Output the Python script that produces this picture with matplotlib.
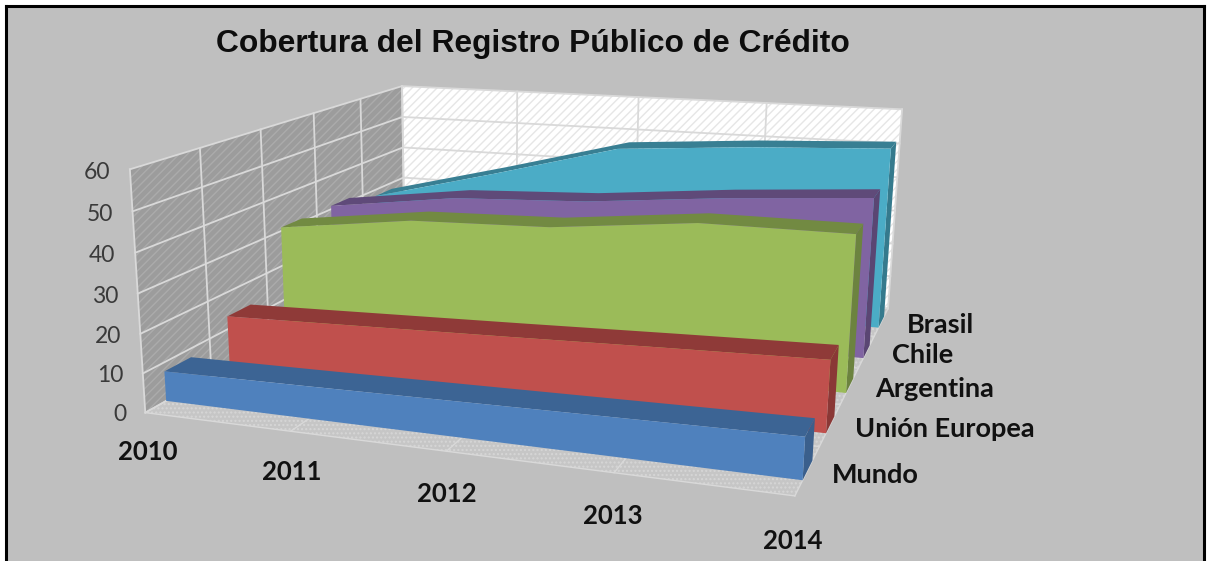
import numpy as np
import matplotlib
matplotlib.use('Agg')
import matplotlib.pyplot as plt
from matplotlib.lines import Line2D
from matplotlib.patches import Rectangle
from mpl_toolkits.mplot3d.art3d import Poly3DCollection

years = ['2010', '2011', '2012', '2013', '2014']
series_names = ['Mundo', 'Unión Europea', 'Argentina', 'Chile', 'Brasil']
mundo = [7.7, 8.2, 8.8, 9.4, 10]
union_europea = [13.5, 14.6, 15.7, 16.9, 18]
argentina = [31, 35.8, 36.9, 40.9, 41]
chile = [31, 36, 37.7, 41.3, 44]
brasil = [28, 37.5, 47.5, 50.2, 52]
z_ticks = [0, 10, 20, 30, 40, 50, 60]

front_colors = ['#4F81BD', '#C0504D', '#9BBB59', '#8064A2', '#4BACC6']
top_colors = ['#3C6494', '#8F3A38', '#728A42', '#5F4A79', '#387F93']
side_colors = ['#3A5F8C', '#8A3836', '#6C833F', '#5A4673', '#357A8D']

W, H = 1208, 561
BG = '#BFBFBF'
GRID = '#D9D9D9'

plt.rcParams['hatch.linewidth'] = 1.0

fig = plt.figure(figsize=(W / 100, H / 100), dpi=100, facecolor='white')
fig.add_artist(Rectangle((6 / W, 0), (W - 10) / W, (H - 6) / H, transform=fig.transFigure,
                         facecolor=BG, edgecolor='none', zorder=-5))
for xs, ys in [([6, 6], [0, H - 6]), ([6, W - 4], [H - 6, H - 6]), ([W - 4, W - 4], [0, H - 6])]:
    fig.add_artist(Line2D(np.array(xs) / W, np.array(ys) / H, color='black', lw=2.2))

# square axes as wide as the figure, so nothing gets clipped
ax = fig.add_axes([0, (H - W) / 2 / H, 1, W / H], projection='3d', computed_zorder=False)
ax.set_axis_off()
ax.patch.set_visible(False)

n_x = len(years) - 1
n_y = len(series_names)
z_max = z_ticks[-1]


def add_poly(verts, face, zorder, edge='none', hatch=None):
    poly = Poly3DCollection(verts, facecolors=face, edgecolors=edge, linewidths=0, zorder=zorder, hatch=hatch)
    ax.add_collection3d(poly)


# walls and floor
add_poly([[(0, 0, 0), (0, n_y, 0), (0, n_y, z_max), (0, 0, z_max)]], '#9C9C9C', 1, '#ABABAB', '////')
add_poly([[(0, n_y, 0), (n_x, n_y, 0), (n_x, n_y, z_max), (0, n_y, z_max)]], '#FFFFFF', 1, '#E6E6E6', '////')
add_poly([[(0, 0, 0), (n_x, 0, 0), (n_x, n_y, 0), (0, n_y, 0)]], '#C6C6C6', 1, '#D6D6D6', '....')

for z in z_ticks:
    ax.plot([0, 0, n_x], [0, n_y, n_y], [z, z, z], color=GRID, lw=1.3, zorder=2)
for y in range(n_y + 1):
    ax.plot([0, 0], [y, y], [0, z_max], color=GRID, lw=1.3, zorder=2)
    ax.plot([0, n_x], [y, y], [0, 0], color=GRID, lw=1.0, zorder=2)
for x in range(n_x + 1):
    ax.plot([x, x], [n_y, n_y], [0, z_max], color=GRID, lw=1.3, zorder=2)
    ax.plot([x, x], [0, n_y], [0, 0], color=GRID, lw=1.0, zorder=2)

# the areas, back to front
all_series = [mundo, union_europea, argentina, chile, brasil]
for i in range(n_y - 1, -1, -1):
    vals = all_series[i]
    y0, y1 = i + 0.3, i + 0.7
    base = 10 + (n_y - i) * 3
    add_poly([[(n_x, y0, 0), (n_x, y1, 0), (n_x, y1, vals[-1]), (n_x, y0, vals[-1])]], side_colors[i], base)
    top = [(k, y0, vals[k]) for k in range(n_x + 1)] + [(k, y1, vals[k]) for k in range(n_x, -1, -1)]
    add_poly([top], top_colors[i], base + 1)
    front = [(k, y0, vals[k]) for k in range(n_x + 1)] + [(n_x, y0, 0), (0, y0, 0)]
    add_poly([front], front_colors[i], base + 2)

# labels
for z in z_ticks:
    ax.text(-0.14, 0, z - 1.2, str(z), ha='right', va='center', fontsize=16.5, color='#3A3A3A',
            family='Lato', zorder=40)
for k, year in enumerate(years):
    ax.text(k, 0, -10.3, year, ha='center', va='center', fontsize=18.5, fontweight='bold',
            color='#111111', family='Lato', zorder=40)
for i, name in enumerate(series_names):
    ax.text(n_x + 0.14 + 0.012 * i, i + 0.47, 0, name, ha='left', va='center', fontsize=19.5, fontweight='bold',
            color='#111111', family='Lato', zorder=40)

fig.text(533 / W, 1 - 44 / H, 'Cobertura del Registro Público de Crédito', ha='center', va='center',
         fontsize=22.9, fontweight='bold', color='#0D0D0D', family='Liberation Sans')

# view: the box corners as they sit in the picture, solved into one projective matrix
box_corners = [(0, 0, 0), (n_x, 0, 0), (n_x, n_y, 0), (0, n_y, 0), (0, 0, z_max), (n_x, n_y, z_max), (0, n_y, z_max)]
box_pixels = [(145, 411), (795, 497), (888, 307), (405, 268), (130, 170), (902, 110), (402, 85)]
rows = []
for (cx, cy, cz), (u, v) in zip(box_corners, box_pixels):
    p = [cx, cy, cz, 1]
    rows.append(p + [0, 0, 0, 0] + [-u * c for c in p])
    rows.append([0, 0, 0, 0] + p + [-v * c for c in p])
proj = np.linalg.svd(np.array(rows, dtype=float))[2][-1].reshape(3, 4)
if proj[2, 3] < 0:
    proj = -proj

ax.apply_aspect()
to_display = np.array([[1, 0, 0], [0, -1, H], [0, 0, 1]], dtype=float)
proj2d = ax.transData.inverted().get_matrix() @ to_display @ proj
# third row is only depth; kept negative because Line3D drops points with positive depth
M = np.vstack([proj2d[0], proj2d[1], [0, -1, 0, -1], proj2d[2]])
ax.get_proj = lambda: M

fig.savefig('out.png', dpi=100, facecolor=fig.get_facecolor())
